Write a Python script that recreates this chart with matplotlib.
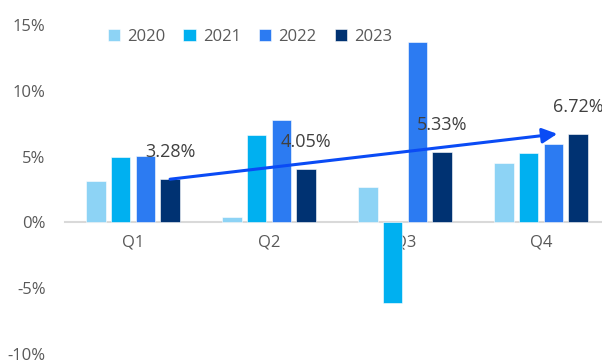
import matplotlib
matplotlib.use("Agg")
import matplotlib.pyplot as plt
import numpy as np

plt.rcParams['font.family'] = ['Open Sans', 'DejaVu Sans']

quarters = ['Q1', 'Q2', 'Q3', 'Q4']
years = ['2020', '2021', '2022', '2023']
growth_2020 = [3.18, 0.42, 2.72, 4.50]
growth_2021 = [4.94, 6.60, -6.14, 5.24]
growth_2022 = [5.06, 7.74, 13.68, 5.92]
growth_2023 = [3.28, 4.05, 5.33, 6.72]
series = [growth_2020, growth_2021, growth_2022, growth_2023]
colors = ['#8DD3F5', '#00B0F0', '#2C7BF2', '#003272']

fig = plt.figure(figsize=(6.02, 3.63), dpi=100)
ax = fig.add_axes([0.108, 0.024, 0.892, 0.908])

x = np.arange(len(quarters))
step = 0.1816
width = 0.143
for i, (vals, col, yr) in enumerate(zip(series, colors, years)):
    ax.bar(x + (i - 1.5) * step, vals, width, color=col, label=yr, zorder=3,
           edgecolor='white', linewidth=0.4)

# value labels above the 2023 bars
for xi, v in zip(x, growth_2023):
    ax.annotate(f'{v:.2f}%', (xi + 1.5 * step, v), xytext=(0, 13),
                textcoords='offset points', ha='center', va='bottom',
                fontsize=13, color='#404040', zorder=5)

# trend arrow Q1 -> Q4
ax.annotate('', xy=(3.12, growth_2023[3]), xytext=(x[0] + 1.5 * step, growth_2023[0]),
            arrowprops=dict(arrowstyle='-|>,head_length=0.9,head_width=0.45',
                            color='#0A4BF5', lw=2.2, shrinkA=0, shrinkB=0),
            zorder=6)

ax.set_xlim(-0.5, 3.449)
ax.set_ylim(-10, 15)
ax.set_yticks([-10, -5, 0, 5, 10, 15])
ax.set_yticklabels([f'{t}%' for t in [-10, -5, 0, 5, 10, 15]])
ax.set_xticks(x)
ax.set_xticklabels(quarters)

for s in ['top', 'right', 'left']:
    ax.spines[s].set_visible(False)
ax.spines['bottom'].set_position(('data', 0))
ax.spines['bottom'].set_color('#D9D9D9')
ax.spines['bottom'].set_linewidth(1.5)
ax.spines['bottom'].set_zorder(2)
ax.tick_params(axis='both', length=0, labelsize=12, labelcolor='#595959')
ax.tick_params(axis='y', pad=14)
ax.tick_params(axis='x', pad=9)

fig.legend(loc='center', bbox_to_anchor=(0.415, 0.898), ncol=4, frameon=False,
           fontsize=12, labelcolor='#595959', handlelength=0.75, handleheight=0.75,
           handletextpad=0.4, columnspacing=1.1)

fig.savefig('out.png', dpi=100)
